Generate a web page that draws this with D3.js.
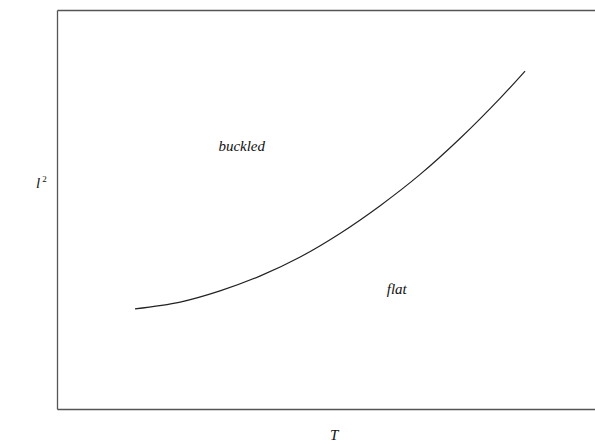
<!DOCTYPE html>
<html>
<head>
<meta charset="utf-8">
<script src="https://cdn.jsdelivr.net/npm/d3@7"></script>
<style>
  body { margin: 0; background: #fff; }
  svg { display: block; font-family: "Liberation Serif", "DejaVu Serif", serif; }
  .frame .domain { stroke: #555; stroke-width: 1.3; }
  .label { font-style: italic; font-size: 15px; fill: #111; }
</style>
</head>
<body>
<svg width="595" height="444"></svg>
<script>
"use strict";

// boundary curve (arbitrary units 0..100)
var tValues  = [14.5, 22.9, 30.3, 37.7, 45.2, 52.6, 60.0, 67.5, 74.9, 82.3, 87.0];
var l2Values = [25.1, 26.8, 29.6, 33.3, 38.1, 44.0, 50.9, 58.8, 67.8, 77.8, 84.7];
var regionLabels = [
  {text: "buckled", t: 30.0, l2: 64.7},
  {text: "flat",    t: 61.3, l2: 28.8}
];

var svg = d3.select("svg"),
  margin = {top: 10, right: 0, bottom: 35, left: 57},
  width = 595 - margin.left - margin.right,
  height = 444 - margin.top - margin.bottom,
  g = svg.append("g").attr("transform", "translate(" + margin.left + "," + margin.top + ")"),
  x = d3.scaleLinear().domain([0, 100]).range([0, width]),
  y = d3.scaleLinear().domain([0, 100]).range([height, 0])
;

var data = tValues.map(function(t, i) { return {t: t, l2: l2Values[i]}; });

// frame: left, bottom and top edges, no ticks
g.append("g").attr("class", "frame")
  .attr("transform", "translate(0," + height + ")")
  .call(d3.axisBottom(x).ticks(0).tickSizeOuter(0));
g.append("g").attr("class", "frame")
  .call(d3.axisTop(x).ticks(0).tickSizeOuter(0));
g.append("g").attr("class", "frame")
  .call(d3.axisLeft(y).ticks(0).tickSizeOuter(0));

var line = d3.line()
  .curve(d3.curveCatmullRom)
  .x(function(d) { return x(d.t); })
  .y(function(d) { return y(d.l2); });

g.append("path")
  .datum(data)
  .attr("fill", "none")
  .attr("stroke", "#222")
  .attr("stroke-width", 1.2)
  .attr("d", line);

g.selectAll("text.region")
  .data(regionLabels)
  .enter()
  .append("text")
  .attr("class", "label region")
  .attr("x", function(d) { return x(d.t); })
  .attr("y", function(d) { return y(d.l2); })
  .text(function(d) { return d.text; });

// axis titles
var yTitle = svg.append("text")
  .attr("class", "label")
  .attr("x", 36)
  .attr("y", 188);
yTitle.append("tspan").text("l");
yTitle.append("tspan").attr("dy", -6).attr("dx", 2).style("font-size", "9px").style("font-style", "normal").text("2");

svg.append("text")
  .attr("class", "label")
  .attr("x", 330)
  .attr("y", 440)
  .text("T");
</script>
</body>
</html>
